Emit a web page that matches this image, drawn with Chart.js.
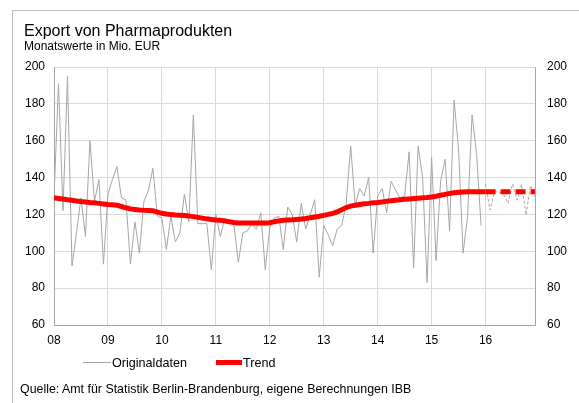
<!DOCTYPE html>
<html><head><meta charset="utf-8">
<script src="https://cdn.jsdelivr.net/npm/chart.js@4/dist/chart.umd.min.js"></script>
<style>
html,body{margin:0;padding:0;background:#fff;}
body{width:579px;height:403px;position:relative;overflow:hidden;font-family:"Liberation Sans",Arial,sans-serif;color:#000;}
#frame{position:absolute;left:12px;top:10px;width:620px;height:440px;border-left:1px solid #bfbfbf;border-top:1px solid #bfbfbf;}
#c{position:absolute;left:0;top:0;}
.t{position:absolute;white-space:nowrap;line-height:1;}
.lg{position:absolute;}
</style></head><body>
<div id="frame"></div>
<canvas id="c" width="579" height="403"></canvas>
<div class="t" style="left:24px;top:23px;font-size:16px;">Export von Pharmaprodukten</div>
<div class="t" style="left:24px;top:40px;font-size:12px;">Monatswerte in Mio. EUR</div>
<div class="lg" style="left:83px;top:362px;width:28px;height:1px;background:#a6a6a6;"></div>
<div class="t" style="left:112px;top:357px;font-size:12.6px;">Originaldaten</div>
<div class="lg" style="left:216px;top:360px;width:26px;height:5px;background:#ff0000;"></div>
<div class="t" style="left:243px;top:357px;font-size:12.6px;">Trend</div>
<div class="t" style="left:20px;top:383px;font-size:12.4px;">Quelle: Amt für Statistik Berlin-Brandenburg, eigene Berechnungen IBB</div>
<script>
const xTickLabels = ['08','09','10','11','12','13','14','15','16'];
const yTicks = [60,80,100,120,140,160,180,200];
// Originaldaten Jan 2008 - Dec 2015
const original = [
 129,191,122,195,92,110,129,108,160,127,139,93,
 131,139,146,129,128,93,116,99,127,133,145,119,
 118,101,119,105,110,131,116,174,115,115,115,90,
 120,108,118,116,115,94,110,111,115,112,121,90,
 113,118,119,101,124,120,105,126,112,120,128,86,
 114,109,103,112,114,126,157,125,134,130,140,99,
 130,134,121,138,133,129,130,154,91,157,140,83,
 151,95,138,150,111,182,155,99,119,174,153,114
];
// Projection Jan 2016 - Dec 2016 (dashed)
const forecast = [136.5,122.4,132.4,132,131,126,136.5,127.8,136.5,119.7,135.7,129.6];
// Trend Jan 2008 - Dec 2016
const trend = [
 129,128.7,128.4,128,127.7,127.3,127,126.8,126.5,126.3,126,125.7,
 125.4,125.2,125,124.3,123.6,123,122.7,122.4,122.2,122.1,122,121.3,
 120.6,120.2,119.9,119.7,119.6,119.4,119.2,118.8,118.4,118,117.6,117.3,
 117,116.8,116.5,116,115.6,115.4,115.4,115.4,115.4,115.4,115.4,115.4,
 115.5,116,116.5,116.8,117,117.1,117.3,117.5,117.8,118.2,118.6,119,
 119.5,120,120.6,121.4,122.5,123.7,124.5,125,125.4,125.8,126,126.3,
 126.5,126.8,127.1,127.4,127.7,128,128.2,128.4,128.6,128.8,129,129.2,
 129.5,129.9,130.4,130.9,131.4,131.8,132,132.2,132.3,132.3,132.3,132.3,
 132.3,132.3,132.3,132.3,132.3,132.3,132.3,132.3,132.3,132.3,132.3,132.3
];
const nActual = original.length;
const origPts = original.map((v,i)=>({x:i,y:v}));
const fcPts = forecast.map((v,i)=>({x:nActual+i,y:v}));
const trendSolid = trend.slice(0,nActual+1).map((v,i)=>({x:i,y:v}));
const trendDash = trend.slice(nActual).map((v,i)=>({x:nActual+i,y:v}));
const fam = '"Liberation Sans", Arial, sans-serif';
const gray = '#a6a6a6';
new Chart(document.getElementById('c'), {
  type:'line',
  data:{datasets:[
    {label:'Trend',data:trendSolid,borderColor:'#ff0000',borderWidth:5,pointRadius:0,tension:0,order:0},
    {label:'Trend2',data:trendDash,borderColor:'#ff0000',borderWidth:5,pointRadius:0,tension:0,borderDash:[10,5],order:0},
    {label:'Originaldaten',data:origPts,borderColor:gray,borderWidth:1,pointRadius:0,tension:0,order:1},
    {label:'Prognose',data:fcPts,borderColor:gray,borderWidth:1,pointRadius:0,tension:0,borderDash:[3,2],order:1}
  ]},
  options:{
    responsive:false,animation:false,devicePixelRatio:1,
    layout:{padding:{top:67,left:0,right:0,bottom:54}},
    plugins:{legend:{display:false},tooltip:{enabled:false}},
    scales:{
      x:{type:'linear',min:0,max:107,
        ticks:{stepSize:12,includeBounds:false,autoSkip:false,maxRotation:0,padding:8,color:'#000',font:{size:12,family:fam},
          callback:(v)=>{const k=v/12;return Number.isInteger(k)&&k<xTickLabels.length?xTickLabels[k]:'';}},
        grid:{color:'#d9d9d9',lineWidth:1,drawTicks:false},
        border:{color:gray,width:1},
        afterFit:(s)=>{s.height=24;s.paddingLeft=0;s.paddingRight=0;}},
      y:{position:'left',min:60,max:200,
        afterBuildTicks:(s)=>{s.ticks=yTicks.map(v=>({value:v}));},
        ticks:{padding:9,color:'#000',font:{size:12,family:fam}},
        grid:{color:'#d9d9d9',lineWidth:1,drawTicks:false},
        border:{color:gray,width:1},
        afterFit:(s)=>{s.width=54;s.paddingTop=0;s.paddingBottom=0;}},
      y2:{position:'right',min:60,max:200,
        afterBuildTicks:(s)=>{s.ticks=yTicks.map(v=>({value:v}));},
        ticks:{padding:12,color:'#000',font:{size:12,family:fam}},
        grid:{drawOnChartArea:false,drawTicks:false},
        border:{color:gray,width:1},
        afterFit:(s)=>{s.width=44;s.paddingTop=0;s.paddingBottom=0;}}
    }
  }
});
</script>
</body></html>
